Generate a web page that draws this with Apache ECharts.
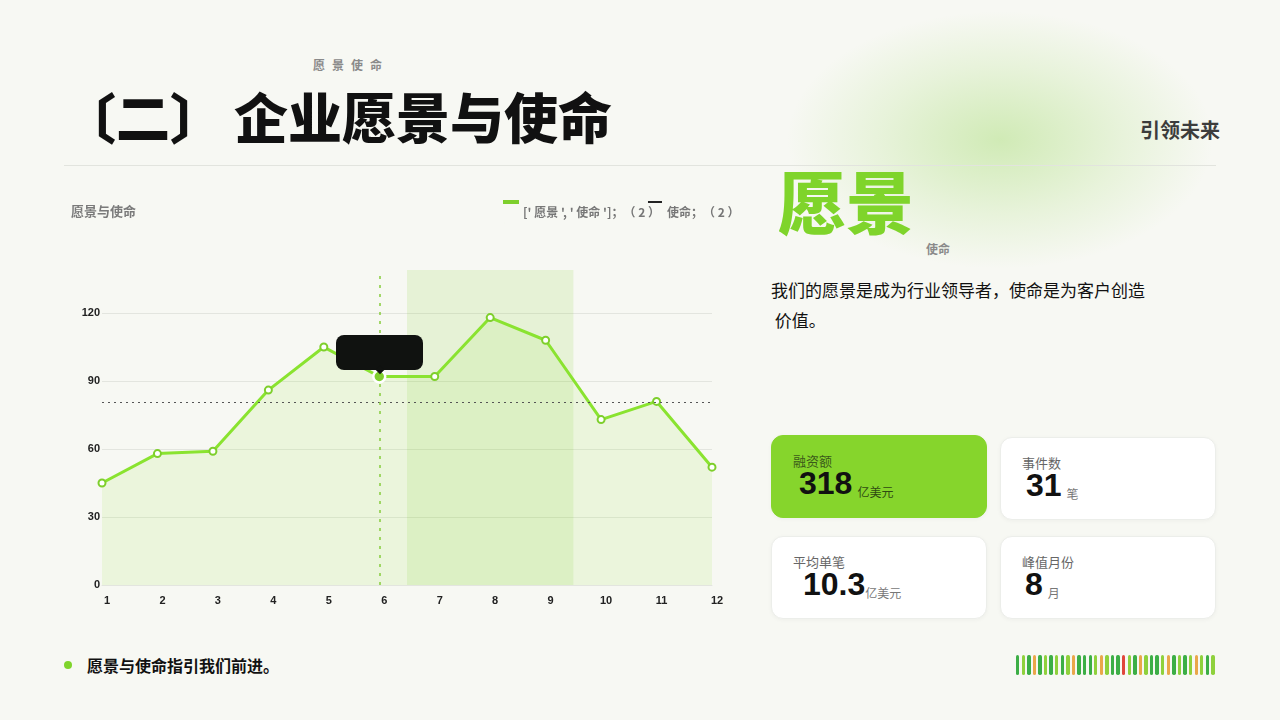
<!DOCTYPE html>
<html>
<head>
<meta charset="utf-8">
<script src="https://cdn.jsdelivr.net/npm/echarts@6/dist/echarts.min.js"></script>
<style>
  html, body { margin: 0; padding: 0; }
  body {
    width: 1280px; height: 720px; position: relative; overflow: hidden;
    background: #f7f8f3;
    font-family: "Noto Sans CJK SC", "Noto Sans", sans-serif;
  }
  .glow {
    position: absolute; left: 785px; top: 10px; width: 430px; height: 260px;
    background: radial-gradient(ellipse at 50% 50%, rgba(150, 214, 90, 0.40) 0%, rgba(170, 222, 120, 0.2) 40%, rgba(247, 248, 243, 0) 70%);
  }
  .kicker { position: absolute; left: 313px; top: 56px; font-size: 12px; font-weight: 700; color: #8a8a8a; letter-spacing: 7px; }
  .title { position: absolute; left: 62px; top: 78px; font-size: 54px; font-weight: 900; color: #111; line-height: 76px; white-space: nowrap; }
  .title .br2 { margin-right: 10px; }
  .tag { position: absolute; right: 60px; top: 115px; font-size: 20px; font-weight: 700; color: #3c3c3c; }
  .rule { position: absolute; left: 64px; top: 165px; width: 1152px; height: 1px; background: #e2e4de; }
  #chart { position: absolute; left: 60px; top: 190px; width: 690px; height: 430px; }
  .big { position: absolute; left: 778px; top: 155px; font-size: 68px; font-weight: 900; color: #7fd42b; line-height: 90px; }
  .sub { position: absolute; left: 926px; top: 240px; font-size: 12px; font-weight: 700; color: #8a8a8a; }
  .para { position: absolute; left: 771px; top: 275px; width: 385px; font-size: 17px; color: #111; line-height: 30px; }
  .card {
    position: absolute; width: 216px; height: 83px; border-radius: 12px; background: #fff;
    border: 1px solid #eceeea; box-shadow: 0 1px 4px rgba(0,0,0,0.04); box-sizing: border-box;
  }
  .card.hl { background: #86d52c; border-color: #86d52c; }
  .card .lb { position: absolute; left: 21px; top: 15px; font-size: 13px; color: #666; }
  .card.hl .lb { color: #3b5a1a; }
  .card .vl { position: absolute; top: 29px; font-family: "Liberation Sans", Arial, sans-serif; font-size: 32px; font-weight: 700; color: #111; white-space: nowrap; }
  .card .un { font-family: "Noto Sans CJK SC", sans-serif; font-size: 12px; font-weight: 400; color: #777; position: relative; top: 3px; }
  .card.hl .un { color: #2f4a12; }
  .bullet { position: absolute; left: 64px; top: 661px; width: 8px; height: 8px; border-radius: 50%; background: #7fd42b; }
  .foot { position: absolute; left: 87px; top: 653px; font-size: 16px; font-weight: 700; color: #111; }
  .barcode { position: absolute; left: 1016px; top: 655px; height: 20px; display: flex; }
  .barcode span { display: block; width: 3.4px; height: 20px; margin-right: 2.2px; border-radius: 1.7px; }
</style>
</head>
<body>
<div class="glow"></div>
<div class="kicker">愿景使命</div>
<div class="title">〔二<span class="br2">〕</span>企业愿景与使命</div>
<div class="tag">引领未来</div>
<div class="rule"></div>
<div id="chart"></div>
<div class="big">愿景</div>
<div class="sub">使命</div>
<div class="para">我们的愿景是成为行业领导者，使命是为客户创造<br>&nbsp;价值。</div>
<div id="cards"></div>
<div class="bullet"></div>
<div class="foot">愿景与使命指引我们前进。</div>
<div class="barcode" id="barcode"></div>

<script>
// 月份 & 数值
var months = ['1', '2', '3', '4', '5', '6', '7', '8', '9', '10', '11', '12'];
var values = [45, 58, 59, 86, 105, 92, 92, 118, 108, 73, 81, 52];
var yTicks = [0, 30, 60, 90, 120];
var legendNames = ["[' 愿景 ', ' 使命 ']；（ 2 ）", '使命；（ 2 ）'];
var focusMonth = 6;
var bandRange = [6.5, 9.5];

// 右侧指标卡
var statLabels = ['融资额', '事件数', '平均单笔', '峰值月份'];
var statValues = ['318', '31', '10.3', '8'];
var statUnits = ['亿美元', '笔', '亿美元', '月'];

// 装饰条颜色
var barColors = ['d', 'l', 'd', 'o', 'd', 'l', 'd', 'l', 'd', 'l', 'o', 'd', 'd', 'd', 'l', 'o', 'l', 'd',
                 'd', 'r', 'l', 'd', 'o', 'l', 'd', 'd', 'l', 'o', 'd', 'l', 'd', 'l', 'o', 'l', 'd', 'l'];

/* 指标卡 (left, top, 数字缩进, 单位间距) */
var cardLayout = [[771, 435, 27, 5], [1000, 437, 25, 5], [771, 536, 31, 0], [1000, 536, 24, 5]];
var cardsHtml = '';
for (var i = 0; i < statLabels.length; i++) {
    var c = cardLayout[i];
    cardsHtml += '<div class="card' + (i === 0 ? ' hl' : '') + '" style="left:' + c[0] + 'px;top:' + c[1] + 'px">' +
        '<div class="lb">' + statLabels[i] + '</div>' +
        '<div class="vl" style="left:' + c[2] + 'px">' + statValues[i] +
        '<span class="un" style="margin-left:' + c[3] + 'px">' + statUnits[i] + '</span></div></div>';
}
document.getElementById('cards').innerHTML = cardsHtml;

var colorMap = { d: '#3cae45', l: '#8fd13c', o: '#eaa74a', r: '#e0463b' };
var bcHtml = '';
barColors.forEach(function (c) { bcHtml += '<span style="background:' + colorMap[c] + '"></span>'; });
document.getElementById('barcode').innerHTML = bcHtml;

/* 折线图 */
var green = '#7ecf2c';
var seriesData = [];
for (var i = 0; i < months.length; i++) {
    seriesData.push([Number(months[i]), values[i]]);
}

// 图例图标: 顶部一条短线, 下方一段零面积路径把图标撑高, 文字就落在线下方
var legendIcon = 'path://M0,0H14V2H0ZM0,22L0.01,22';

var myChart = echarts.init(document.getElementById('chart'));
var option = {
    animation: false,
    title: {
        text: '愿景与使命',
        left: 6, top: 10,
        textStyle: { fontSize: 13, fontWeight: 'bold', color: '#7a7a7a', fontFamily: 'Noto Sans CJK SC' }
    },
    legend: {
        left: 438, top: 5,
        itemWidth: 14, itemHeight: 22, itemGap: -12,
        data: [
            { name: legendNames[0], icon: legendIcon, itemStyle: { color: green } },
            { name: legendNames[1], icon: legendIcon, itemStyle: { color: '#222' } }
        ],
        textStyle: { fontSize: 12, fontWeight: 'bold', color: '#777', fontFamily: 'Noto Sans CJK SC' }
    },
    tooltip: {
        trigger: 'item',
        position: 'top',
        alwaysShowContent: true,
        backgroundColor: '#101210',
        borderColor: '#101210',
        borderWidth: 0,
        padding: 0,
        extraCssText: 'border-radius:8px;box-shadow:none;margin-top:6px;',
        formatter: function () { return '<div style="width:87px;height:35px"></div>'; }
    },
    grid: { left: 42, right: 38, top: 80, bottom: 35 },
    xAxis: {
        type: 'value',
        min: 1, max: 12, interval: 1,
        axisLine: { show: true, lineStyle: { color: '#e3e5df' } },
        axisTick: { show: false },
        splitLine: { show: false },
        axisLabel: {
            margin: 10, padding: [0, 0, 0, 10],
            color: '#222', fontSize: 11, fontWeight: 'bold', fontFamily: 'Liberation Sans',
            formatter: function (v) { return months[v - 1] || ''; }
        }
    },
    yAxis: {
        type: 'value',
        min: yTicks[0], max: 139, interval: 30,
        axisLine: { show: false },
        axisTick: { show: false },
        splitLine: { show: true, showMaxLine: false, lineStyle: { color: '#e3e5df' } },
        axisLabel: {
            showMaxLabel: false, margin: 2,
            color: '#222', fontSize: 11, fontWeight: 'bold', fontFamily: 'Liberation Sans'
        }
    },
    series: [
        {
            name: legendNames[0],
            type: 'line',
            data: seriesData,
            symbol: 'circle',
            symbolSize: 7,
            lineStyle: { color: green, width: 3 },
            itemStyle: { color: '#fff', borderColor: green, borderWidth: 2 },
            areaStyle: { color: 'rgba(126, 207, 44, 0.16)' },
            emphasis: {
                scale: 1.7,
                itemStyle: { color: green, borderColor: '#fff', borderWidth: 2.5 }
            },
            markArea: {
                silent: true,
                itemStyle: { color: 'rgba(126, 207, 44, 0.14)' },
                data: [[{ xAxis: bandRange[0] }, { xAxis: bandRange[1] }]]
            },
            markLine: {
                silent: true,
                symbol: 'none',
                label: { show: false },
                lineStyle: { color: '#86cc3c', type: [3, 6], width: 1.5 },
                data: [
                    { type: 'average', lineStyle: { color: '#555', type: [2, 4], width: 1.2 } },
                    { xAxis: focusMonth }
                ]
            }
        },
        {
            name: legendNames[1],
            type: 'line',
            data: []
        }
    ]
};
myChart.setOption(option, true);
myChart.dispatchAction({ type: 'highlight', seriesIndex: 0, dataIndex: focusMonth - 1 });
myChart.dispatchAction({ type: 'showTip', seriesIndex: 0, dataIndex: focusMonth - 1 });
</script>
</body>
</html>
